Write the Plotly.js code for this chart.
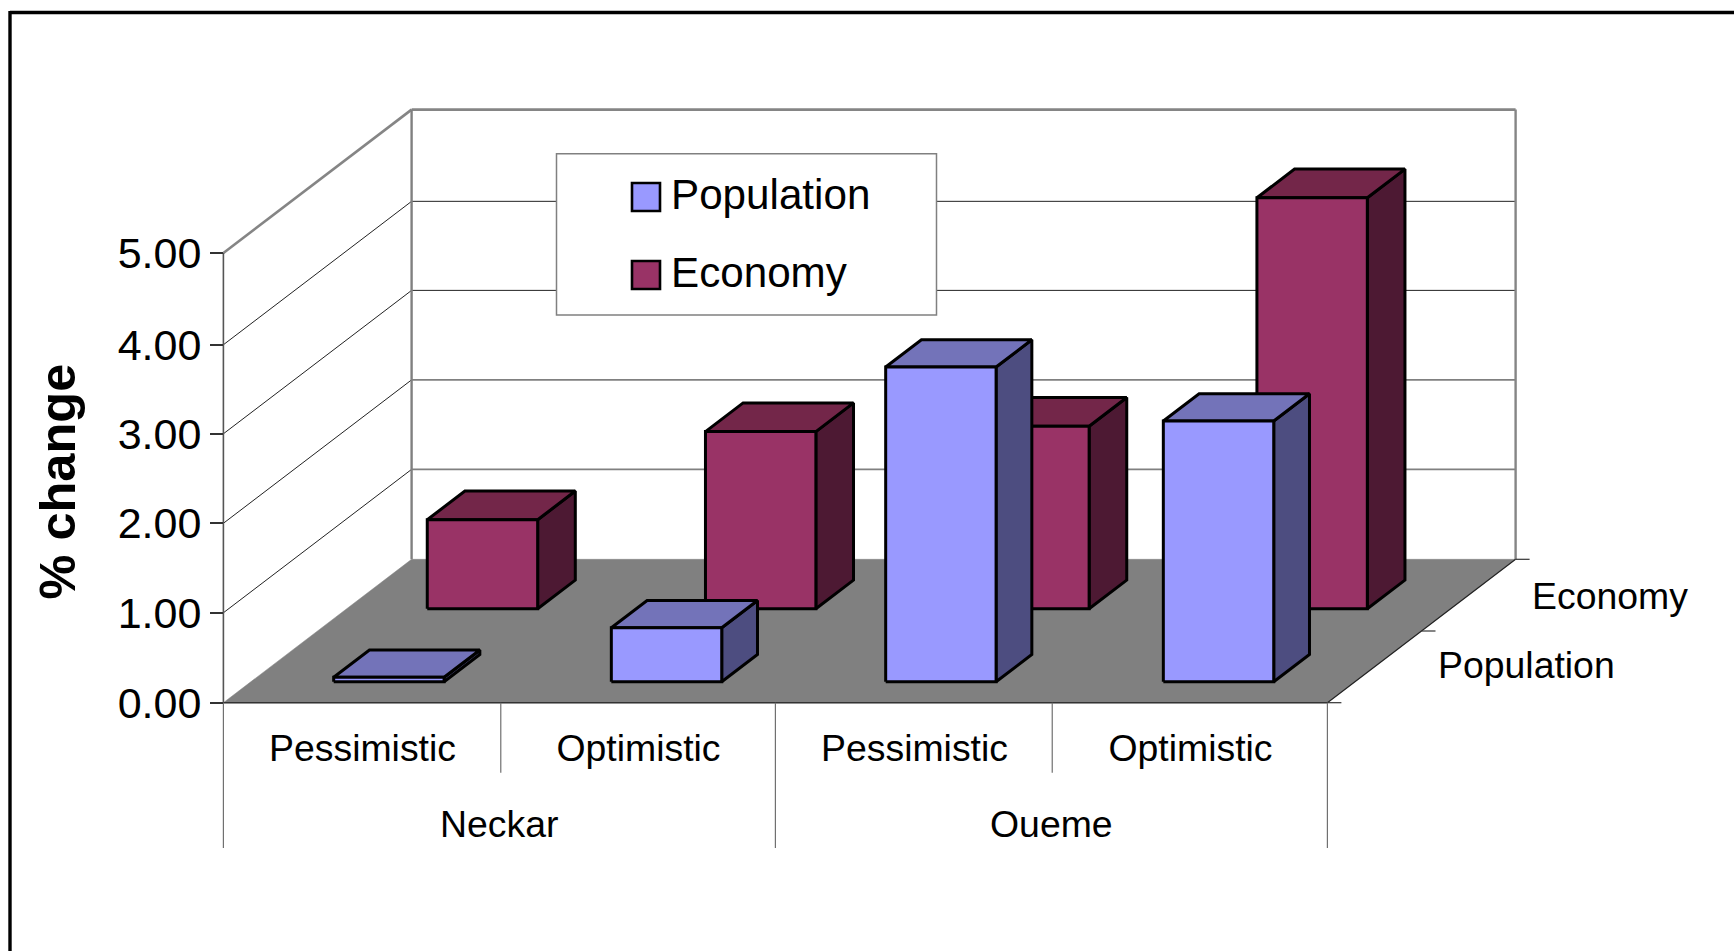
<!DOCTYPE html>
<html>
<head>
<meta charset="utf-8">
<script src="https://cdn.plot.ly/plotly-3.0.1.min.js"></script>
<style>html,body{margin:0;padding:0;background:#fff;overflow:hidden}</style>
</head>
<body>
<div id="chart" style="width:1734px;height:951px"></div>
<script>
// ---- data ----
const categories = ["Pessimistic", "Optimistic", "Pessimistic", "Optimistic"];
const groups = ["Neckar", "Oueme"];
const seriesNames = ["Population", "Economy"];
const population = [0.05, 0.60, 3.50, 2.90];
const economy = [0.99, 1.97, 2.03, 4.57];
const yTickLabels = ["0.00", "1.00", "2.00", "3.00", "4.00", "5.00"];
const yAxisTitle = "% change";

// ---- styles ----
const FONT = "Liberation Sans, Arial, sans-serif";
const popColors = {front: "#9999FF", top: "#7373B9", side: "#4D4D80"};
const ecoColors = {front: "#993366", top: "#732649", side: "#4D1933"};

// ---- oblique projection, in axis units ----
const W = 1734, H = 951, X0 = 223.4, Y0 = 702.7, PXU = 276, PYU = 89.94;
const DX = 188.2 / PXU, DY = 143.4 / PYU;         // whole floor depth
const BAR_W = 0.4;
// the source chart snapped its axis levels and bars to whole pixels
const levelPos = [0, 1, 1.995, 2.99, 3.98, 5];
const popNudge = [0, 0.006, 0, 0.006];
const ecoNudge = [-0.008, 0, -0.01, -0.002];
const dividerPos = [0, 1.005, 2, 3.003, 4];
const px = (u, d) => u + d * DX;
const py = (v, d) => v + d * DY;

const traces = [];
function poly(pts, fill, lineColor, lineWidth) {
  const t = {
    x: pts.map(p => px(p[0], p[2])),
    y: pts.map(p => py(p[1], p[2])),
    mode: "lines", hoverinfo: "skip", showlegend: false,
    line: {color: lineColor, width: lineWidth, shape: "linear"}
  };
  if (fill) { t.fill = "toself"; t.fillcolor = fill; }
  traces.push(t);
}
function seg(a, b, color, width) { poly([a, b], null, color, width); }

// floor
poly([[0,0,0],[4,0,0],[4,0,1],[0,0,1],[0,0,0]], "#808080", "#808080", 0.5);

// walls and grid
const gridStyle = {1:["#808080",1.6], 2:["#808080",1.6], 3:["#222222",1], 4:["#222222",1]};
[1,2,3,4].forEach(i => {
  const v = levelPos[i];
  seg([0,v,1],[4,v,1], gridStyle[i][0], gridStyle[i][1]);
  seg([0,v,0],[0,v,1], "#222222", 1);
});
seg([0,5,1],[4,5,1], "#858585", 2.6);
seg([0,5,0],[0,5,1], "#858585", 2.6);
seg([0,0,1],[0,5,1], "#808080", 2.4);
seg([4,0,1],[4,5,1], "#858585", 2.4);
seg([0,0,0],[0,5,0], "#555555", 1.6);
seg([4,0,0],[4,0,1], "#222222", 1.2);
seg([0,0,0],[4,0,0], "#333333", 1.4);

// depth ticks on the right-hand floor edge
const TICK_U = 14 / PXU;
[0, 0.5, 1].forEach(d => seg([4,0,d],[4 + TICK_U,0,d], "#333333", 1.2));

// dividers under the floor
const subDrop = 70 / PYU, groupDrop = 145.3 / PYU;
dividerPos.forEach((u, i) => {
  const drop = i % 2 === 0 ? groupDrop : subDrop;
  seg([u,0,0],[u,-drop,0], "#707070", 1.2);
});

// bars, back series first
function bar(u, value, d0, depth, c) {
  const l = u + 0.5 - BAR_W / 2, r = u + 0.5 + BAR_W / 2, d1 = d0 + depth;
  poly([[r,0,d0],[r,0,d1],[r,value,d1],[r,value,d0],[r,0,d0]], c.side, "#000", 3);
  poly([[l,value,d0],[r,value,d0],[r,value,d1],[l,value,d1],[l,value,d0]], c.top, "#000", 3);
  poly([[l,0,d0],[r,0,d0],[r,value,d0],[l,value,d0],[l,0,d0]], c.front, "#000", 3);
}
economy.forEach((v, i) => bar(i + ecoNudge[i], v, 0.655, 0.2, ecoColors));
population.forEach((v, i) => bar(i + popNudge[i], v, 0.146, 0.19, popColors));

// ---- legend box drawn in page fractions ----
const fx = p => p / W, fy = p => 1 - p / H;
const rect = (x0, y0, x1, y1, fill, color, w) => ({
  type: "rect", xref: "paper", yref: "paper", x0: fx(x0), x1: fx(x1), y0: fy(y0), y1: fy(y1),
  fillcolor: fill, line: {color: color, width: w}, layer: "above"
});
const shapes = [
  {type:"line", xref:"paper", yref:"paper", x0:fx(10), x1:1, y0:fy(12.5), y1:fy(12.5), line:{color:"#000",width:3.4}},
  {type:"line", xref:"paper", yref:"paper", x0:fx(10), x1:fx(10), y0:fy(11), y1:0, line:{color:"#000",width:3.4}},
  rect(556.5,153.7,936.5,315,"#ffffff","#808080",1.5),
  rect(632,183,660,211,popColors.front,"#000",2.6),
  rect(632,261,660,289,ecoColors.front,"#000",2.6)
];

const ann = (text, x, y, size, xanchor, refPage) => ({
  text, x, y, xref: refPage ? "paper" : "x", yref: refPage ? "paper" : "y",
  xanchor, yanchor: "middle", showarrow: false,
  font: {family: FONT, size, color: "#000"}
});
const titleAnn = ann(yAxisTitle, fx(57.5), fy(481), 50.5, "center", true);
titleAnn.textangle = -90;
titleAnn.font.weight = "bold";
const annotations = [
  ann(groups[0], 1, -121.5 / PYU, 37.4, "center"),
  ann(groups[1], 3, -121.5 / PYU, 37.4, "center"),
  ann(seriesNames[1], (1530 - X0) / PXU, (Y0 - 596) / PYU, 37.4, "left"),
  ann(seriesNames[0], (1436 - X0) / PXU, (Y0 - 665) / PYU, 37.4, "left"),
  ann(seriesNames[0], fx(669), fy(194), 42.2, "left", true),
  ann(seriesNames[1], fx(669), fy(272), 42.2, "left", true),
  titleAnn
];

const layout = {
  width: W, height: H,
  margin: {l:0, r:0, t:0, b:0, pad:0},
  paper_bgcolor: "#fff", plot_bgcolor: "#fff",
  showlegend: false,
  xaxis: {
    range: [-X0 / PXU, (W - X0) / PXU], anchor: "free", position: (H - Y0) / H,
    tickmode: "array", tickvals: categories.map((c, i) => i + 0.504), ticktext: categories,
    ticks: "outside", ticklen: 12, tickcolor: "rgba(0,0,0,0)", showline: false,
    showgrid: false, zeroline: false, fixedrange: true,
    tickfont: {family: FONT, size: 37.4, color: "#000"}
  },
  yaxis: {
    range: [-(H - Y0) / PYU, Y0 / PYU], anchor: "free", position: X0 / W,
    tickmode: "array", tickvals: levelPos, ticktext: yTickLabels,
    ticks: "outside", ticklen: 13.4, tickwidth: 1.5, tickcolor: "#333", showline: false,
    showgrid: false, zeroline: false, fixedrange: true,
    tickfont: {family: FONT, size: 43, color: "#000"}
  },
  shapes, annotations
};
Plotly.newPlot("chart", traces, layout, {displayModeBar: false, responsive: false});
</script>
</body>
</html>
